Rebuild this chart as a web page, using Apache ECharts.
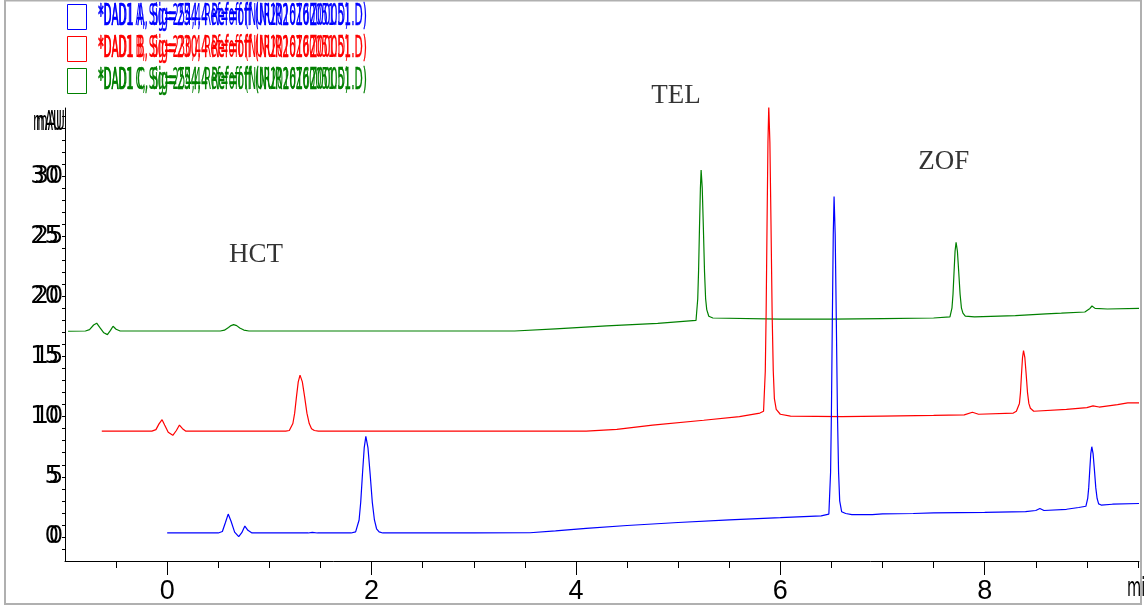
<!DOCTYPE html>
<html>
<head>
<meta charset="utf-8">
<script src="https://cdn.jsdelivr.net/npm/echarts@6/dist/echarts.min.js"></script>
<style>
    html, body { margin: 0; padding: 0; background: #fff; }
    #main { width: 1144px; height: 610px; }
</style>
</head>
<body>
<div id="main"></div>
<script type="text/javascript">
// legend / trace names
var traceNames = [
    '*DAD1 A, Sig=254,4 Ref=off (NUR2016Z00051.D)',
    '*DAD1 B, Sig=230,4 Ref=off (NUR2016Z00051.D)',
    '*DAD1 C, Sig=254,4 Ref=off (NUR2016Z00051.D)'
];
var traceColors = ['#0000ff', '#ff0000', '#008000'];

// axis labels
var xLabels = [0, 2, 4, 6, 8];
var xMinorTicks = [-0.5, 0.5, 1, 1.5, 2.5, 3, 3.5, 4.5, 5, 5.5, 6.5, 7, 7.5, 8.5, 9, 9.5];
var yLabels = [0, 5, 10, 15, 20, 25, 30];
var yTicks = [-1, 0, 1, 2, 3, 4, 5, 6, 7, 8, 9, 10, 11, 12, 13, 14, 15, 16, 17, 18, 19, 20,
    21, 22, 23, 24, 25, 26, 27, 28, 29, 30, 31, 32, 33, 34, 35];

// peak annotations [text, x, y] (data coords)
var peakNames = [['HCT', 0.87, 23.45], ['TEL', 4.98, 36.7], ['ZOF', 7.6, 31.15]];

// chromatograms, [min, mAU]
var blueTrace = [
    [0.0, 0.33], [0.5, 0.33], [0.54, 0.45], [0.57, 1.2], [0.597, 1.9], [0.625, 1.3], [0.66, 0.4],
    [0.7, 0.02], [0.73, 0.35], [0.76, 0.9], [0.79, 0.55], [0.83, 0.33], [1.38, 0.33], [1.42, 0.38],
    [1.47, 0.33], [1.8, 0.33], [1.844, 0.42], [1.878, 1.41], [1.894, 2.9], [1.911, 5.23], [1.928, 7.4],
    [1.944, 8.36], [1.965, 7.4], [1.986, 5.23], [2.007, 2.9], [2.028, 1.41], [2.049, 0.68], [2.074, 0.42],
    [2.11, 0.33], [3.0, 0.33], [3.55, 0.35], [3.8, 0.5], [4.1, 0.72], [4.5, 0.95], [5.0, 1.2], [5.5, 1.42],
    [6.0, 1.6], [6.4, 1.75], [6.475, 1.9], [6.492, 5.4], [6.5, 10.3], [6.509, 18.0], [6.518, 25.1],
    [6.526, 28.3], [6.537, 25.1], [6.548, 18.0], [6.559, 10.3], [6.57, 5.4], [6.581, 3.0], [6.6, 2.1],
    [6.64, 1.95], [6.7, 1.85], [6.9, 1.85], [7.0, 1.92], [7.3, 1.95], [7.5, 2.0], [8.0, 2.05], [8.4, 2.1],
    [8.5, 2.2], [8.54, 2.37], [8.58, 2.2], [8.8, 2.3], [8.92, 2.45], [8.99, 2.55], [9.008, 3.2], [9.018, 4.1],
    [9.028, 5.55], [9.038, 6.9], [9.048, 7.5], [9.061, 6.9], [9.074, 5.55], [9.087, 4.1], [9.1, 3.2],
    [9.115, 2.75], [9.14, 2.65], [9.25, 2.72], [9.51, 2.78]
];
var redTrace = [
    [-0.64, 8.8], [-0.15, 8.8], [-0.11, 8.92], [-0.08, 9.4], [-0.05, 9.75], [-0.025, 9.3], [0.01, 8.7],
    [0.055, 8.45], [0.09, 8.85], [0.12, 9.3], [0.15, 9.0], [0.18, 8.8], [1.16, 8.8], [1.195, 8.85],
    [1.23, 9.43], [1.2475, 10.29], [1.265, 11.64], [1.2825, 12.89], [1.3, 13.45], [1.3225, 12.89],
    [1.345, 11.64], [1.3675, 10.29], [1.39, 9.43], [1.4125, 9.0], [1.44, 8.85], [1.48, 8.8], [4.1, 8.8],
    [4.4, 8.95], [4.75, 9.3], [5.25, 9.7], [5.6, 10.0], [5.8, 10.3], [5.836, 10.45], [5.853, 13.8],
    [5.861, 18.5], [5.87, 25.9], [5.879, 32.8], [5.887, 35.8], [5.898, 32.8], [5.909, 25.9], [5.92, 18.5],
    [5.931, 13.8], [5.942, 11.5], [5.96, 10.6], [6.0, 10.2], [6.1, 10.05], [6.6, 10.0], [7.0, 10.05],
    [7.5, 10.1], [7.8, 10.15], [7.88, 10.37], [7.94, 10.2], [8.28, 10.3], [8.31, 10.45], [8.34, 11.1],
    [8.35, 12.0], [8.36, 13.5], [8.37, 14.9], [8.38, 15.5], [8.393, 14.9], [8.406, 13.5], [8.419, 12.0],
    [8.432, 11.1], [8.447, 10.7], [8.48, 10.45], [8.8, 10.6], [9.0, 10.75], [9.06, 10.9], [9.12, 10.8],
    [9.3, 11.0], [9.4, 11.15], [9.51, 11.15]
];
var greenTrace = [
    [-0.97, 17.1], [-0.8, 17.12], [-0.76, 17.24], [-0.72, 17.62], [-0.69, 17.77], [-0.66, 17.42],
    [-0.62, 16.97], [-0.585, 16.82], [-0.555, 17.17], [-0.53, 17.52], [-0.5, 17.27], [-0.46, 17.12],
    [0.52, 17.12], [0.56, 17.19], [0.6, 17.42], [0.625, 17.57], [0.65, 17.65], [0.68, 17.57], [0.71, 17.37],
    [0.75, 17.2], [0.8, 17.12], [3.4, 17.12], [3.8, 17.3], [4.3, 17.55], [4.8, 17.75], [5.175, 18.0],
    [5.192, 19.8], [5.2, 22.1], [5.209, 25.7], [5.218, 29.0], [5.225, 30.5], [5.236, 29.0], [5.247, 25.7],
    [5.258, 22.1], [5.269, 19.8], [5.28, 18.9], [5.3, 18.35], [5.34, 18.2], [6.0, 18.1], [6.5, 18.1],
    [7.0, 18.15], [7.5, 18.2], [7.66, 18.3], [7.68, 19.05], [7.69, 20.2], [7.7, 22.0], [7.71, 23.75],
    [7.72, 24.5], [7.733, 23.75], [7.746, 22.0], [7.759, 20.2], [7.772, 19.05], [7.787, 18.6],
    [7.81, 18.35], [7.9, 18.3], [8.3, 18.4], [8.6, 18.55], [8.75, 18.6], [8.98, 18.7], [9.03, 19.0],
    [9.05, 19.2], [9.08, 19.0], [9.2, 18.95], [9.51, 19.0]
];
var traces = [blueTrace, redTrace, greenTrace];

var xMin = -1, xMax = 9.51, yMin = -2, yMax = 35.66;
var narrow = '"Liberation Sans Narrow", "DejaVu Sans Condensed", "Liberation Sans", sans-serif';

// width the legend text should take (garbled double print in the original)
function textWidth(str, font) {
    var ctx = document.createElement('canvas').getContext('2d');
    ctx.font = font;
    return ctx.measureText(str).width;
}

var myChart = echarts.init(document.getElementById('main'));

var legendFont = '30px ' + narrow;
var unitFont = '26px ' + narrow;
var unitScale = 29 / textWidth('mAU', unitFont);
var graphics = [
    {
        type: 'rect', shape: { x: 5, y: 0.5, width: 1136, height: 603.5 },
        style: { fill: 'none', stroke: '#b0b0b0', lineWidth: 2 }, silent: true
    },
    { type: 'text', x: 65, y: 123, scaleX: unitScale, style: { text: 'mAU', font: unitFont, fill: '#000', textAlign: 'right', textVerticalAlign: 'middle' } },
    { type: 'text', x: 62, y: 123, scaleX: unitScale, style: { text: 'mAU', font: unitFont, fill: '#000', textAlign: 'right', textVerticalAlign: 'middle' } },
    { type: 'text', x: 1127, y: 589, scaleX: 0.6, style: { text: 'min', font: '27px ' + narrow, fill: '#000', textVerticalAlign: 'middle' } }
];
traceNames.forEach(function (name, i) {
    var cy = 17 + i * 32;
    var w = textWidth(name, legendFont);
    graphics.push({
        type: 'rect', shape: { x: 67.5, y: cy - 12.5, width: 19, height: 25 },
        style: { fill: 'none', stroke: traceColors[i], lineWidth: 1 }
    });
    graphics.push({
        type: 'text', x: 98, y: cy, scaleX: 269 / w, originX: 0,
        style: { text: name, font: legendFont, fill: traceColors[i], stroke: traceColors[i], lineWidth: 0.5, textVerticalAlign: 'middle' }
    });
    graphics.push({
        type: 'text', x: 99, y: cy, scaleX: 250 / w, originX: 0,
        style: { text: name, font: legendFont, fill: traceColors[i], textVerticalAlign: 'middle' }
    });
});

var option = {
    animation: false,
    grid: { left: 65, right: 5, top: 108, bottom: 49 },
    xAxis: [
        {
            type: 'value', min: xMin, max: xMax,
            axisLine: { onZero: false, lineStyle: { color: '#000', width: 1 } },
            axisTick: { customValues: xLabels, length: 14, lineStyle: { color: '#000' } },
            axisLabel: { customValues: xLabels, margin: 17, color: '#000', fontSize: 27, fontFamily: 'Liberation Sans' },
            splitLine: { show: false }
        },
        {
            type: 'value', min: xMin, max: xMax, position: 'bottom',
            axisLine: { show: false, onZero: false },
            axisTick: { customValues: xMinorTicks, length: 7, lineStyle: { color: '#000' } },
            axisLabel: { show: false },
            splitLine: { show: false }
        }
    ],
    yAxis: [
        {
            type: 'value', min: yMin, max: yMax,
            axisLine: { show: true, onZero: false, lineStyle: { color: '#000', width: 1 } },
            axisTick: { show: true, customValues: yTicks, length: 3, lineStyle: { color: '#000' } },
            axisLabel: { customValues: yLabels, margin: 2, color: '#000', fontSize: 25, fontFamily: narrow },
            splitLine: { show: false }
        },
        {
            type: 'value', min: yMin, max: yMax, position: 'left',
            axisLine: { show: false, onZero: false },
            axisTick: { show: false },
            axisLabel: { customValues: yLabels, margin: 6, color: '#000', fontSize: 25, fontFamily: narrow },
            splitLine: { show: false }
        }
    ],
    graphic: graphics,
    series: traces.map(function (d, i) {
        return {
            name: traceNames[i],
            type: 'line',
            data: d,
            showSymbol: false,
            symbol: 'none',
            lineStyle: { color: traceColors[i], width: 1.2 },
            silent: true,
            z: 3 - i
        };
    }).concat([{
        type: 'scatter',
        data: peakNames.map(function (p) { return [p[1], p[2]]; }),
        symbolSize: 0,
        silent: true,
        clip: false,
        label: {
            show: true, position: 'inside', color: '#000', fontSize: 27,
            fontFamily: '"Liberation Serif", serif',
            formatter: function (p) { return peakNames[p.dataIndex][0]; }
        }
    }])
};

myChart.setOption(option);
</script>
</body>
</html>
